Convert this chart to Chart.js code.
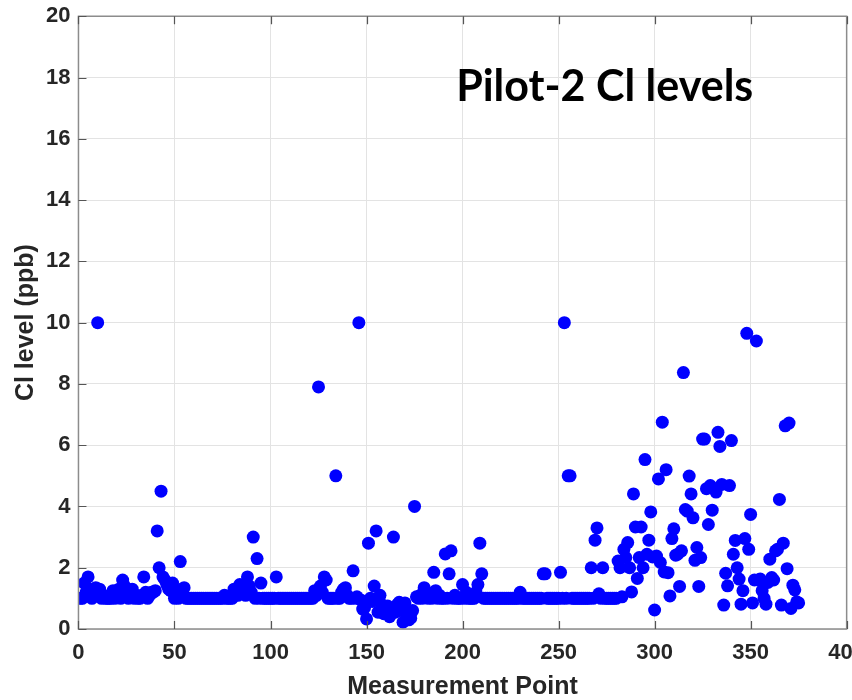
<!DOCTYPE html>
<html>
<head>
<meta charset="utf-8">
<title>Pilot-2 Cl levels</title>
<script src="https://cdn.jsdelivr.net/npm/chart.js@4/dist/chart.umd.min.js"></script>
<style>
    html, body { margin: 0; padding: 0; background: #fff; overflow: hidden; }
    #caixa { width: 878px; height: 700px; }
</style>
</head>
<body>
<div id="caixa"><canvas id="grafico" width="878" height="700"></canvas></div>
<script>
// Cl level (ppb) por ponto de medição (ponto = posição no array, começando em 1)
const nivelCl = [
    1.0, 1.0, 1.5, 1.2, 1.7, 1.3, 1.0, 1.1, 1.35, 10.0,
    1.3, 1.0, 1.1, 1.0, 1.0, 1.0, 1.0, 1.25, 1.0, 1.1,
    1.3, 1.0, 1.6, 1.4, 1.2, 1.0, 1.2, 1.3, 1.0, 1.1,
    1.0, 1.0, 1.1, 1.7, 1.2, 1.0, 1.1, 1.2, 1.2, 1.25,
    3.2, 2.0, 4.5, 1.7, 1.6, 1.45, 1.3, 1.25, 1.5, 1.0,
    1.1, 1.0, 2.2, 1.3, 1.35, 1.0, 1.0, 1.0, 1.0, 1.0,
    1.0, 1.0, 1.0, 1.0, 1.0, 1.0, 1.0, 1.0, 1.0, 1.0,
    1.0, 1.0, 1.0, 1.0, 1.0, 1.1, 1.0, 1.0, 1.0, 1.0,
    1.3, 1.2, 1.1, 1.45, 1.2, 1.25, 1.1, 1.7, 1.4, 1.2,
    3.0, 1.0, 2.3, 1.0, 1.5, 1.0, 1.0, 1.0, 1.0, 1.0,
    1.0, 1.0, 1.7, 1.0, 1.0, 1.0, 1.0, 1.0, 1.0, 1.0,
    1.0, 1.0, 1.0, 1.0, 1.0, 1.0, 1.0, 1.0, 1.0, 1.0,
    1.0, 1.0, 1.25, 1.1, 7.9, 1.4, 1.2, 1.7, 1.6, 1.0,
    1.0, 1.0, 1.0, 5.0, 1.0, 1.0, 1.2, 1.3, 1.35, 1.1,
    1.0, 1.0, 1.9, 1.0, 1.05, 10.0, 0.95, 0.65, 0.7, 0.33,
    2.8, 1.0, 0.9, 1.4, 3.2, 0.55, 1.1, 0.8, 0.5, 0.7,
    0.75, 0.4, 0.6, 3.0, 0.55, 0.8, 0.87, 0.6, 0.22, 0.85,
    0.5, 0.3, 0.35, 0.6, 4.0, 1.05, 1.0, 1.1, 1.0, 1.35,
    1.2, 1.0, 1.15, 1.0, 1.85, 1.25, 1.0, 1.1, 1.0, 1.0,
    2.45, 1.0, 1.8, 2.55, 1.0, 1.1, 1.0, 1.0, 1.0, 1.45,
    1.0, 1.2, 1.0, 1.0, 1.0, 1.0, 1.2, 1.45, 2.8, 1.8,
    1.0, 1.0, 1.0, 1.0, 1.0, 1.0, 1.0, 1.0, 1.0, 1.0,
    1.0, 1.0, 1.0, 1.0, 1.0, 1.0, 1.0, 1.0, 1.0, 1.2,
    1.0, 1.0, 1.0, 1.0, 1.0, 1.0, 1.0, 1.0, 1.0, 1.0,
    1.0, 1.8, 1.8, 1.0, 1.0, 1.0, 1.0, 1.0, 1.0, 1.0,
    1.85, 1.0, 10.0, 1.0, 5.0, 5.0, 1.0, 1.0, 1.0, 1.0,
    1.0, 1.0, 1.0, 1.0, 1.0, 1.0, 2.0, 1.0, 2.9, 3.3,
    1.15, 1.0, 2.0, 1.0, 1.0, 1.0, 1.0, 1.0, 1.0, 1.0,
    2.22, 2.0, 1.05, 2.6, 2.33, 2.82, 2.0, 1.21, 4.41, 3.33,
    1.65, 2.33, 3.33, 2.0, 5.53, 2.44, 2.9, 3.82, 2.35, 0.62,
    2.38, 4.9, 2.17, 6.75, 1.86, 5.2, 1.84, 1.08, 2.95, 3.27,
    2.41, 2.44, 1.39, 2.55, 8.37, 3.9, 3.85, 4.99, 4.41, 3.63,
    2.24, 2.66, 1.39, 2.33, 6.2, 6.2, 4.58, 3.41, 4.68, 3.88,
    4.58, 4.47, 6.42, 5.96, 4.72, 0.78, 1.82, 1.41, 4.68, 6.15,
    2.44, 2.89, 2.0, 1.63, 0.81, 1.25, 2.95, 9.65, 2.6, 3.74,
    0.85, 1.6, 9.4, 1.6, 1.63, 1.25, 1.0, 0.81, 1.52, 2.28,
    1.68, 1.6, 2.55, 2.6, 4.23, 0.78, 2.8, 6.63, 1.97, 6.72,
    0.67, 1.43, 1.28, 0.89, 0.85
];

const ticksX = [0, 50, 100, 150, 200, 250, 300, 350, 400];
const ticksY = [0, 2, 4, 6, 8, 10, 12, 14, 16, 18, 20];

const tituloGrafico = 'Pilot-2 Cl levels';
const tituloX       = 'Measurement Point';
const tituloY       = 'Cl level (ppb)';

const pontos = nivelCl.map((v, i) => ({ x: i + 1, y: v }));

const corTexto = '#262626';
const corEixo  = '#8c8c8c';
const fonteEixo = '"Liberation Sans", Arial, sans-serif';

// caixa do eixo, marcas internas (estilo MATLAB) e título dentro da área
const caixaMatlab = {
    id: 'caixaMatlab',
    afterDraw(chart) {
        const { ctx, chartArea: a, scales } = chart;
        ctx.save();
        ctx.strokeStyle = corEixo;
        ctx.lineWidth = 1.5;
        ctx.strokeRect(a.left, a.top, a.right - a.left, a.bottom - a.top);

        ctx.lineWidth = 1.2;
        ctx.strokeStyle = '#555';
        ctx.beginPath();
        ticksX.forEach(t => {
            const px = Math.round(scales.x.getPixelForValue(t)) + 0.5;
            ctx.moveTo(px, a.bottom); ctx.lineTo(px, a.bottom - 8);
            ctx.moveTo(px, a.top);    ctx.lineTo(px, a.top + 8);
        });
        ticksY.forEach(t => {
            const py = Math.round(scales.y.getPixelForValue(t)) + 0.5;
            ctx.moveTo(a.left, py); ctx.lineTo(a.left + 8, py);
        });
        ctx.stroke();

        ctx.fillStyle = '#000';
        ctx.font = 'bold 43px Lato, "Open Sans", sans-serif';
        ctx.textAlign = 'center';
        ctx.textBaseline = 'alphabetic';
        ctx.fillText(tituloGrafico, scales.x.getPixelForValue(274), scales.y.getPixelForValue(17.25));
        ctx.restore();
    }
};

new Chart(document.getElementById('grafico'), {
    type: 'scatter',
    data: {
        datasets: [{
            label: tituloY,
            data: pontos,
            backgroundColor: '#0000ff',
            borderColor: '#0000ff',
            borderWidth: 0,
            pointRadius: 6.5,
            pointHoverRadius: 6.5
        }]
    },
    options: {
        responsive: false,
        animation: false,
        layout: { padding: { left: 10, top: 0, right: 0, bottom: 0 } },
        plugins: {
            legend:  { display: false },
            tooltip: { enabled: false }
        },
        scales: {
            x: {
                type: 'linear',
                min: 0,
                max: 400,
                afterBuildTicks: s => { s.ticks = ticksX.map(v => ({ value: v })); },
                grid:   { color: '#e3e3e3', lineWidth: 1, drawTicks: false },
                border: { display: false },
                ticks:  { color: corTexto, padding: 13, maxRotation: 0,
                          font: { family: fonteEixo, size: 22, weight: 'bold', lineHeight: 1 } },
                title:  { display: true, text: tituloX, color: corTexto, padding: { top: -2, bottom: 0 },
                          font: { family: fonteEixo, size: 25, weight: 'bold', lineHeight: 1 } }
            },
            y: {
                min: 0,
                max: 20,
                afterBuildTicks: s => { s.ticks = ticksY.map(v => ({ value: v })); },
                grid:   { color: '#e3e3e3', lineWidth: 1, drawTicks: false },
                border: { display: false },
                ticks:  { color: corTexto, padding: 8,
                          font: { family: fonteEixo, size: 22, weight: 'bold', lineHeight: 0.75 } },
                title:  { display: true, text: tituloY, color: corTexto, padding: { top: 4, bottom: -1 },
                          font: { family: fonteEixo, size: 25, weight: 'bold', lineHeight: 1 } }
            }
        }
    },
    plugins: [caixaMatlab]
});
</script>
</body>
</html>
